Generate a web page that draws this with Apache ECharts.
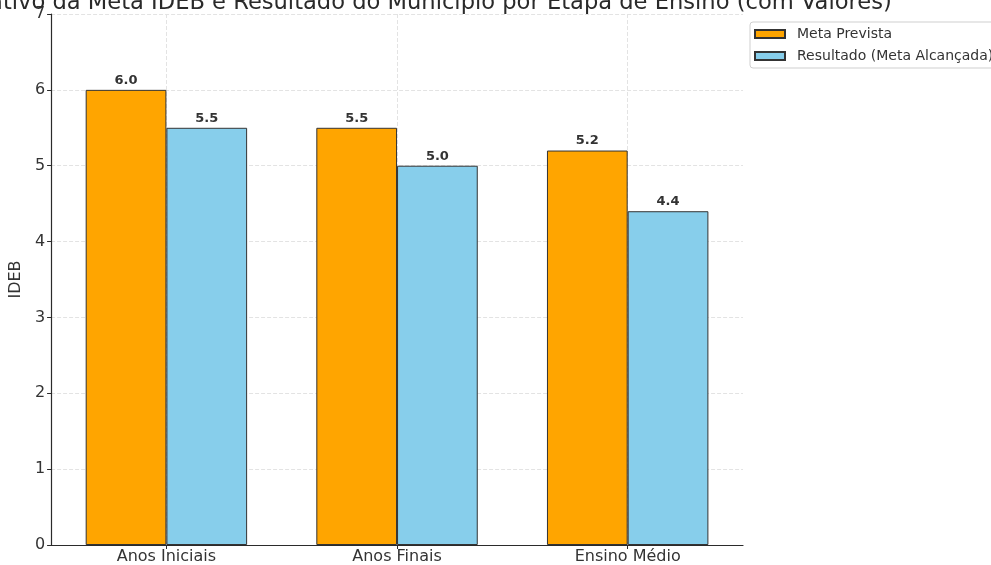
<!DOCTYPE html>
<html>
<head>
<meta charset="utf-8">
<script src="https://cdn.jsdelivr.net/npm/echarts@6/dist/echarts.min.js"></script>
<style>
  html, body { margin: 0; padding: 0; background: #fff; }
  #chart { width: 991px; height: 565px; }
</style>
</head>
<body>
<div id="chart"></div>
<script>
// Etapas de ensino e valores do IDEB
const etapas = ['Anos Iniciais', 'Anos Finais', 'Ensino Médio'];
const metaPrevista = [6.0, 5.5, 5.2];
const resultado = [5.5, 5.0, 4.4];
const yTicks = [0, 1, 2, 3, 4, 5, 6, 7];

const tituloGrafico = 'Comparativo da Meta IDEB e Resultado do Município por Etapa de Ensino (com Valores)';

const chart = echarts.init(document.getElementById('chart'), null, { renderer: 'canvas' });

const fonte = 'DejaVu Sans';
const corTexto = '#333';

const rotulo = {
  show: true,
  position: 'top',
  distance: 3,
  formatter: p => p.value.toFixed(1),
  fontFamily: fonte,
  fontSize: 13,
  fontWeight: 'bold',
  color: '#333'
};

chart.setOption({
  animation: false,
  backgroundColor: '#fff',
  title: {
    text: tituloGrafico,
    left: -105,
    top: -13,
    textStyle: { fontFamily: fonte, fontSize: 22.6, fontWeight: 'normal', color: '#2a2a2a' }
  },
  legend: {
    orient: 'vertical',
    left: 750,
    top: 22,
    padding: [4, 8, 4, 4],
    icon: 'rect',
    itemWidth: 30,
    itemHeight: 8,
    itemGap: 6,
    borderColor: '#cfcfcf',
    borderWidth: 1,
    borderRadius: 3,
    textStyle: { fontFamily: fonte, fontSize: 14, color: corTexto, lineHeight: 16, padding: [0, 0, 0, 7] },
    data: ['Meta Prevista', 'Resultado (Meta Alcançada)']
  },
  grid: { left: 50, top: 14, width: 693, bottom: 20, containLabel: false },
  xAxis: {
    type: 'category',
    data: etapas,
    axisLine: { lineStyle: { color: '#2b2b2b', width: 1.2 } },
    axisTick: { show: true, alignWithLabel: true, length: 4, lineStyle: { color: '#2b2b2b' } },
    axisLabel: { fontFamily: fonte, fontSize: 16, color: corTexto, margin: 4 },
    splitLine: { show: true, alignWithLabel: true, lineStyle: { color: '#e3e3e3', type: 'dashed', width: 1 } }
  },
  yAxis: {
    type: 'value',
    min: yTicks[0],
    max: yTicks[yTicks.length - 1],
    interval: 1,
    name: 'IDEB',
    nameLocation: 'middle',
    nameGap: 23,
    nameTextStyle: { fontFamily: fonte, fontSize: 16, color: corTexto },
    axisLine: { show: true, lineStyle: { color: '#2b2b2b', width: 1.2 } },
    axisTick: { show: true, length: 4, lineStyle: { color: '#2b2b2b' } },
    axisLabel: { fontFamily: fonte, fontSize: 16, color: corTexto, margin: 6 },
    splitLine: { show: true, lineStyle: { color: '#e3e3e3', type: 'dashed', width: 1 } }
  },
  series: [
    {
      name: 'Meta Prevista',
      type: 'bar',
      data: metaPrevista,
      barWidth: '35%',
      barGap: '0%',
      itemStyle: { color: '#FFA500', borderColor: '#333', borderWidth: 1 },
      label: rotulo
    },
    {
      name: 'Resultado (Meta Alcançada)',
      type: 'bar',
      data: resultado,
      barWidth: '35%',
      barGap: '0%',
      itemStyle: { color: '#87CEEB', borderColor: '#333', borderWidth: 1 },
      label: rotulo
    }
  ]
});
</script>
</body>
</html>
